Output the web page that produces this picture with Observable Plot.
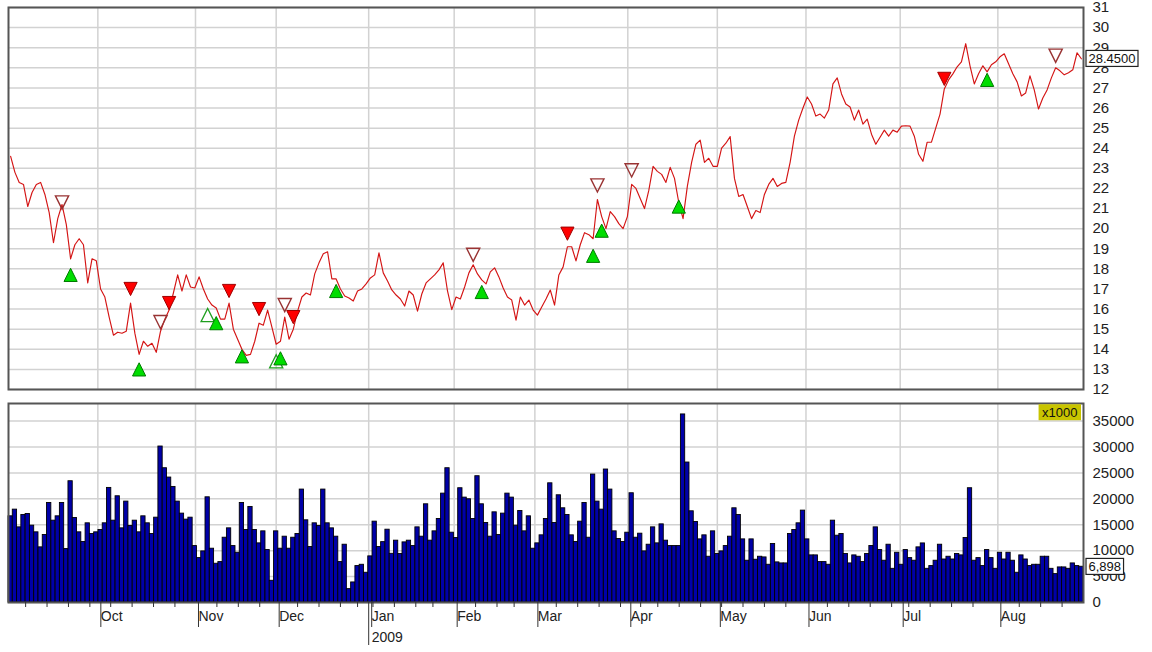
<!DOCTYPE html>
<html><head><meta charset="utf-8">
<script src="https://cdn.jsdelivr.net/npm/d3@7"></script>
<script src="https://cdn.jsdelivr.net/npm/@observablehq/plot@0.6"></script>
<style>
html,body{margin:0;padding:0;background:#fff;}
#chart{width:1152px;height:652px;overflow:hidden;}
#chart svg{display:block;max-width:none;}
</style></head><body><div id="chart"></div>
<script>
// ---- data (one value per trading day, Sep 2 2008 .. Aug 28 2009) ----
const price = [
23.6,22.8,22.3,22.2,21.1,21.8,22.2,22.3,21.7,20.8,
19.3,20.5,21.2,20.2,18.5,19.2,19.5,19.2,17.3,18.5,
18.4,17.0,16.6,15.6,14.7,14.85,14.8,14.9,16.3,14.8,
13.75,14.4,14.15,14.3,13.85,14.9,15.5,15.95,16.8,17.7,
16.9,17.7,17.1,17.05,17.6,17.0,16.5,16.2,16.05,15.5,
15.5,16.3,15.0,14.5,14.0,13.7,13.75,14.4,15.3,15.2,
15.95,15.1,14.25,14.4,15.6,14.5,15.0,15.9,16.6,16.8,
16.7,17.75,18.3,18.75,18.85,17.5,17.5,17.0,16.65,16.55,
16.4,16.9,17.0,17.25,17.55,17.7,18.8,17.8,17.4,16.95,
16.7,16.5,16.15,16.9,16.7,15.9,16.75,17.3,17.5,17.7,
17.95,18.3,16.9,15.97,16.6,16.5,17.1,17.8,18.2,17.75,
17.45,17.25,17.85,18.05,17.6,17.05,16.6,16.45,15.45,16.6,
16.2,16.45,15.95,15.7,16.1,16.5,16.95,16.2,17.7,18.1,
19.1,19.1,18.4,19.2,19.8,19.7,19.5,21.45,20.6,20.0,
20.85,20.6,20.25,20.0,20.6,22.2,22.0,21.5,21.0,21.9,
23.1,22.85,22.7,22.3,23.05,22.5,21.3,20.5,22.1,23.3,
24.2,24.4,23.3,23.5,23.1,23.1,24.0,24.25,24.58,22.5,
21.6,21.7,21.1,20.5,20.9,20.8,21.7,22.2,22.5,22.1,
22.25,22.3,23.3,24.6,25.4,26.0,26.55,26.2,25.6,25.7,
25.5,25.9,27.2,27.5,26.7,26.2,26.05,25.4,25.9,25.2,
25.45,24.7,24.2,24.55,24.9,24.6,24.9,24.8,25.1,25.12,
25.1,24.6,23.7,23.35,24.3,24.3,25.0,25.7,26.95,27.4,
27.7,28.05,28.3,29.2,28.1,27.2,27.7,28.1,27.8,28.15,
28.3,28.55,28.7,28.2,27.7,27.3,26.6,26.75,27.6,26.9,
25.95,26.5,26.9,27.5,28.0,27.85,27.65,27.75,27.9,28.75,
28.45];

// volume in thousands
const volume = [
16630,17920,14500,16890,17080,14830,13540,10640,13020,19210,
15790,16630,19210,10310,23400,16310,13540,11670,15280,13210,
13540,13990,15280,22110,15790,20500,14310,19470,14760,15790,
13540,16630,15280,13210,16370,30100,25910,24110,22300,19470,
17150,15990,16370,10890,8570,9860,20300,10380,7480,7800,
12500,14310,10890,9600,19210,13990,18440,13990,11410,13730,
10120,4190,13730,10380,12700,10380,12500,13210,21790,15860,
10700,15280,14760,21790,15280,14310,12700,7800,11150,2580,
3870,7030,7280,5740,8900,15600,10700,11650,14050,9400,
11930,9350,11600,11930,10890,14500,12700,18950,11930,13730,
16120,21010,25910,13470,12440,22050,20240,19920,16120,24370,
18950,15340,12700,17400,13020,17150,21010,20240,14830,17660,
13730,16630,10380,11410,12960,16120,23000,15340,20690,18180,
16890,12960,11670,15600,19210,12500,24690,19470,17920,25660,
21790,13730,12250,11670,13470,21080,12500,13280,9860,11150,
14500,11410,15080,11930,10890,10890,10890,36290,27010,17600,
15530,12180,12960,8830,13730,9350,9860,10890,12700,18180,
16890,12180,8060,12180,8250,8830,8700,7280,11280,7740,
7540,7540,13210,13990,15280,17730,12180,9090,9090,7800,
7800,7280,15790,12890,13210,9350,7540,9090,8830,7800,
9350,10900,14500,10120,8060,11150,6500,9600,7280,10120,
8570,8060,10640,11400,6500,7030,8060,11150,8300,8830,
8300,9350,9090,12440,22050,8060,8570,7030,10120,8570,
6500,9600,8300,9600,8060,5740,9090,8300,7030,7280,
7280,8830,8830,6500,5480,6770,6770,6500,7540,7030,
6898];

// signals: [day index, price level of marker]
const sellFilled  = [[28,17.0],[37,16.3],[51,16.9],[58,16.0],[66,15.6],[130,19.75],[218,27.45]];
const sellHollow  = [[12,21.3],[35,15.35],[64,16.2],[108,18.7],[137,22.15],[145,22.9],[244,28.6]];
const buyFilled   = [[14,17.7],[30,13.0],[48,15.3],[54,13.65],[63,13.55],[76,16.9],[110,16.85],[136,18.65],[138,19.9],[156,21.1],[228,27.4]];
const buyHollow   = [[46,15.7],[62,13.4]];

// axis ticks / labels
const priceTicks  = d3.range(12, 32);
const volumeTicks = d3.range(0, 35001, 5000);
const monthLabels = ["Oct","Nov","Dec","Jan","Feb","Mar","Apr","May","Jun","Jul","Aug"];
const monthLines  = [20.86,43.66,62.5,84.1,104.06,122.9,144.6,165.5,186.2,208.2,231.0];
const holidays    = ["2008-11-27","2008-12-25","2009-01-01","2009-01-19","2009-02-16","2009-04-10","2009-05-25","2009-07-03"];
const firstDay    = "2008-09-02";
const volumeScaleLabel = "x1000";

// ---- derived ----
const N = price.length;
const hol = new Set(holidays);
const dates = [];
for (let d = new Date(firstDay + "T00:00:00Z"); dates.length < N; d.setUTCDate(d.getUTCDate() + 1)) {
  const wd = d.getUTCDay();
  if (wd !== 0 && wd !== 6 && !hol.has(d.toISOString().slice(0, 10))) dates.push(new Date(d));
}
const monthStarts = [];
for (let k = 1; k < N; k++) if (dates[k].getUTCMonth() !== dates[k - 1].getUTCMonth()) monthStarts.push(k);
const weekTicks = [];
for (let k = 1; k < N; k++) {
  if (dates[k].getUTCDay() < dates[k - 1].getUTCDay()) {
    let j = -1;
    for (let m = 0; m < monthStarts.length; m++) if (monthStarts[m] <= k) j = m;
    if (j >= 0 && monthStarts[j] === k) continue;
    weekTicks.push(j >= 0 ? monthLines[j] + (k - monthStarts[j]) : k);
  }
}
const yearTicks = [];
monthStarts.forEach((k, j) => {
  if (dates[k].getUTCFullYear() !== dates[k - 1].getUTCFullYear())
    yearTicks.push({pos: monthLines[j], label: String(dates[k].getUTCFullYear())});
});

const pts = price.map((v, i) => ({i, v}));
const bars = volume.map((v, i) => ({i, v}));
const mk = arr => arr.map(([i, v]) => ({i, v}));

const triDown = {draw(ctx, size) { const r = Math.sqrt(size / Math.PI); ctx.moveTo(-r, -r); ctx.lineTo(r, -r); ctx.lineTo(0, r); ctx.closePath(); }};
const triUp   = {draw(ctx, size) { const r = Math.sqrt(size / Math.PI); ctx.moveTo(-r, r); ctx.lineTo(r, r); ctx.lineTo(0, -r); ctx.closePath(); }};

const FONT = "'Liberation Sans', Arial, sans-serif";
const common = {width: 1152, marginLeft: 8, marginRight: 69,
  style: {fontFamily: FONT, fontSize: "15px", color: "#222", background: "#fff", overflow: "visible"},
  x: {domain: [0, N], axis: null}};
const gridStyle = {stroke: "#d2d2d2", strokeOpacity: 1, strokeWidth: 1.5};
const mx = d => d.i + 0.5;

const lastPrice = price[N - 1];
const lastVol = volume[N - 1];
const priceLabel = lastPrice.toFixed(4);
const volLabel = d3.format(",")(lastVol);

const topChart = Plot.plot({
  ...common, height: 395, marginTop: 7, marginBottom: 6,
  y: {domain: [12, 31], axis: null},
  marks: [
    Plot.gridY(priceTicks, gridStyle),
    Plot.gridX(monthLines, gridStyle),
    Plot.line(pts, {x: mx, y: "v", stroke: "#d41414", strokeWidth: 1.15}),
    Plot.dot(mk(sellHollow), {x: mx, y: "v", symbol: triDown, r: 6.6, fill: "none", stroke: "#993333", strokeWidth: 1.4}),
    Plot.dot(mk(buyHollow), {x: mx, y: "v", symbol: triUp, r: 6.6, fill: "none", stroke: "#1f9f1f", strokeWidth: 1.3}),
    Plot.dot(mk(sellFilled), {x: mx, y: "v", symbol: triDown, r: 6.6, fill: "#ff0000", stroke: "#a00000", strokeWidth: 1}),
    Plot.dot(mk(buyFilled), {x: mx, y: "v", symbol: triUp, r: 6.6, fill: "#00dd00", stroke: "#007a00", strokeWidth: 1}),
    Plot.frame({stroke: "#555", strokeWidth: 2}),
    Plot.axisY(priceTicks, {anchor: "right", tickSize: 0, tickPadding: 9, fontSize: 15, label: null, fill: "#222", tickFormat: d => String(d)}),
    Plot.text([{x: N, v: lastPrice}], {x: "x", y: "v", text: () => priceLabel, textAnchor: "start", dx: 5, fontSize: 13, fill: "#111"})
  ]
});

const bottomChart = Plot.plot({
  ...common, height: 257, marginTop: 8, marginBottom: 50,
  y: {domain: [0, 38400], axis: null},
  marks: [
    Plot.gridY(volumeTicks, gridStyle),
    Plot.gridX(monthLines, gridStyle),
    Plot.rect(bars, {x1: "i", x2: d => d.i + 1, y1: 0, y2: "v", fill: "#0000a8", stroke: "#000", strokeWidth: 0.9}),
    Plot.frame({stroke: "#555", strokeWidth: 2}),
    Plot.axisY(volumeTicks, {anchor: "right", tickSize: 0, tickPadding: 9, fontSize: 15, label: null, fill: "#222", tickFormat: d => String(d)}),
    Plot.axisX(weekTicks, {tickSize: 5, tickFormat: () => "", stroke: "#333", label: null}),
    Plot.axisX(monthLines, {tickSize: 25, tickPadding: -16, textAnchor: "start", dx: 3, fontSize: 14, fill: "#222", stroke: "#333",
      tickFormat: d => monthLabels[monthLines.indexOf(d)], label: null}),
    Plot.axisX(yearTicks.map(d => d.pos), {tickSize: 43, tickFormat: () => "", stroke: "#333", label: null}),
    Plot.text(yearTicks, {x: "pos", text: "label", frameAnchor: "bottom", lineAnchor: "top", dy: 30, dx: 3, textAnchor: "start", fontSize: 14, fill: "#222"}),
    Plot.text([{x: N, v: lastVol}], {x: "x", y: "v", text: () => volLabel, textAnchor: "start", dx: 5, fontSize: 13, fill: "#111"}),
    Plot.text([volumeScaleLabel], {text: d => d, frameAnchor: "top-right", textAnchor: "end", lineAnchor: "top", dx: -6, dy: 4, fontSize: 13, fill: "#111"})
  ]
});

const root = document.getElementById("chart");
root.appendChild(topChart);
root.appendChild(bottomChart);

function boxLabel(svg, str, fill, stroke, px, py) {
  for (const t of svg.querySelectorAll("text")) {
    if (t.textContent !== str) continue;
    const b = t.getBBox();
    const r = document.createElementNS("http://www.w3.org/2000/svg", "rect");
    r.setAttribute("x", b.x - px);
    r.setAttribute("y", b.y - py);
    r.setAttribute("width", b.width + 2 * px);
    r.setAttribute("height", b.height + 2 * py);
    r.setAttribute("fill", fill);
    if (stroke) { r.setAttribute("stroke", stroke); r.setAttribute("stroke-width", 1.2); }
    const tr = t.getAttribute("transform");
    if (tr) r.setAttribute("transform", tr);
    t.parentNode.insertBefore(r, t);
  }
}
boxLabel(topChart, priceLabel, "#fff", "#222", 2.5, 0.5);
boxLabel(bottomChart, volLabel, "#fff", "#222", 2.5, 0.5);
boxLabel(bottomChart, volumeScaleLabel, "#c8c400", null, 3.5, 0.5);
</script></body></html>
